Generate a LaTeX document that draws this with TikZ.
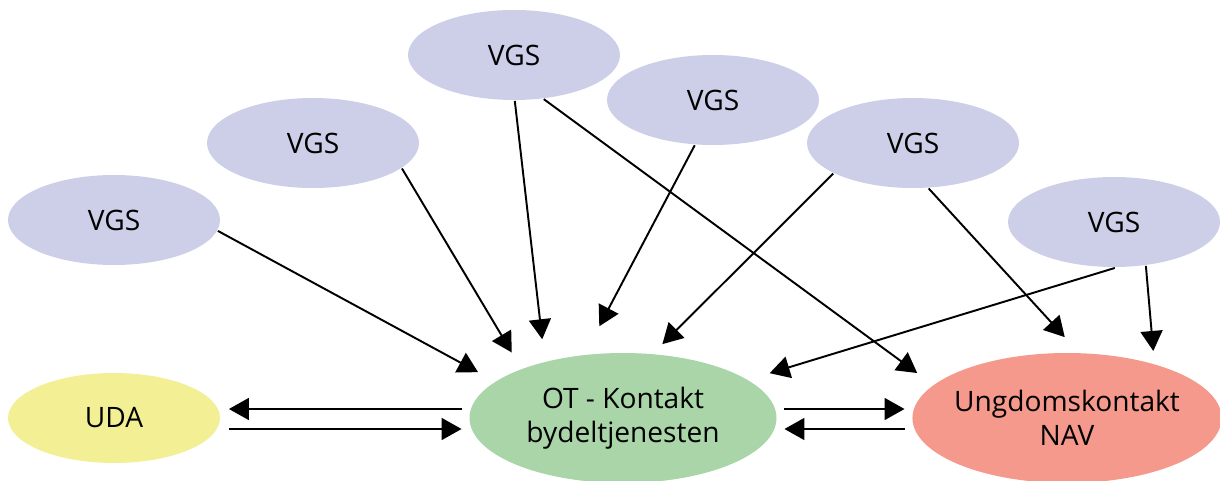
\documentclass[tikz,border=0pt]{standalone}
\usepackage{fontspec}
\setmainfont{Open Sans}
\usepackage{xcolor}
\usepackage{tikz}
\usetikzlibrary{arrows.meta, shapes.geometric}

\definecolor{vgsblue}{RGB}{204,207,231}
\definecolor{udayellow}{RGB}{243,239,148}
\definecolor{otgreen}{RGB}{169,213,168}
\definecolor{navred}{RGB}{244,153,140}

\begin{document}
\begin{tikzpicture}[>={Triangle[length=0.4cm, width=0.44cm]},
                    line width=1.1pt, node distance=4cm]
\tikzstyle{blob}=[shape=ellipse, draw=none, inner sep=-2pt, align=center,
                    font=\fontsize{16}{19.5}\selectfont]
\tikzstyle{vgs}=[blob, fill=vgsblue, minimum width=4.24cm, minimum height=1.8cm]
\tikzstyle{hub}=[blob, minimum width=6.14cm, minimum height=2.6cm]
  \useasboundingbox (0,0) rectangle (24.4,-9.62);
  \node[vgs, fill=udayellow] (UDA) at (2.28,-8.36) {UDA};
  \node[hub, fill=otgreen] (OT)  [right of=UDA, node distance=10.18cm] {OT - Kontakt\\bydeltjenesten};
  \node[hub, fill=navred]  (NAV) [right of=OT, node distance=8.88cm] {Ungdomskontakt\\NAV};
  \node[vgs] (V1) [above of=UDA, node distance=3.96cm] {VGS};
  \node[vgs] (V2) [right of=V1, node distance=3.98cm, yshift=1.54cm] {VGS};
  \node[vgs] (V3) [right of=V2, node distance=4.02cm, yshift=1.76cm] {VGS};
  \node[vgs] (V4) [right of=V3, node distance=3.98cm, yshift=-0.9cm] {VGS};
  \node[vgs] (V5) [right of=V4, yshift=-0.86cm] {VGS};
  \node[vgs] (V6) [right of=V5, node distance=4.02cm, yshift=-1.58cm] {VGS};
  % schools to OT
  \path[->] (V1.-6)   edge [shorten >=0.38cm] (OT.164);
  \path[->] (V2.-16)  edge [shorten >=0.37cm] (OT.154);
  \path[->] (V3.-89)  edge [shorten >=0.44cm] (OT.144);
  \path[->] (V4.-112) edge [shorten >=0.63cm] (OT.121);
  \path[->] (V5.-159) edge [shorten >=0.26cm] (OT.65);
  \path[->] (V6.-89)  edge [shorten >=0.44cm] (OT.17);
  % schools to NAV
  \path[->] (V3.-56)  edge [shorten >=0.39cm] (NAV.166);
  \path[->] (V5.-71)  edge [shorten >=0.41cm] (NAV.80);
  \path[->] (V6.-54)  edge [shorten >=0.25cm] (NAV.32);
  % bottom row
  \path[->] ([yshift=0.18cm]OT.west)   edge [shorten <=0.14cm, shorten >=0.16cm] ([yshift=0.18cm]UDA.east);
  \path[->] ([yshift=-0.22cm]UDA.east) edge [shorten <=0.16cm, shorten >=0.14cm] ([yshift=-0.22cm]OT.west);
  \path[->] ([yshift=0.18cm]OT.east)   edge [shorten <=0.14cm, shorten >=0.14cm] ([yshift=0.18cm]NAV.west);
  \path[->] ([yshift=-0.22cm]NAV.west) edge [shorten <=0.14cm, shorten >=0.14cm] ([yshift=-0.22cm]OT.east);
\end{tikzpicture}
\end{document}
